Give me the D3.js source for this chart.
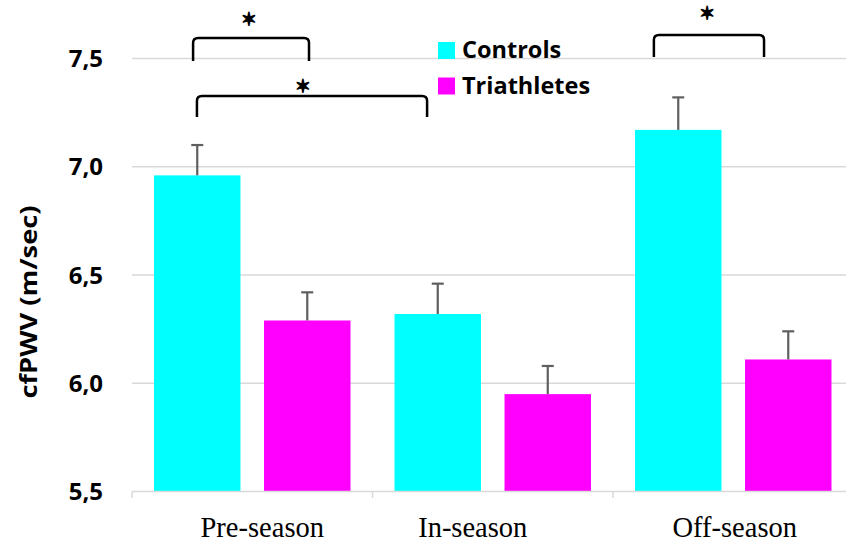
<!DOCTYPE html>
<html>
<head>
<meta charset="utf-8">
<script src="https://cdn.jsdelivr.net/npm/d3@7"></script>
<style>
  html, body { margin: 0; padding: 0; background: #fff; }
  svg { display: block; }
</style>
</head>
<body>
<svg id="chart" width="846" height="542"></svg>
<script>
// ---- data ----
const categories = ["Pre-season", "In-season", "Off-season"];
const seriesNames = ["Controls", "Triathletes"];
const controls = [6.96, 6.32, 7.17];
const controlsErr = [0.14, 0.14, 0.15];
const triathletes = [6.29, 5.95, 6.11];
const triathletesErr = [0.13, 0.13, 0.13];
const yTicks = [5.5, 6.0, 6.5, 7.0, 7.5];
const yTickLabels = ["5,5", "6,0", "6,5", "7,0", "7,5"];
const yTitle = "cfPWV (m/sec)";
// significance brackets: x as category index + fraction of the category band, y in data units
const bracketFrom = [0.254, 0.270, 2.170];
const bracketTo = [0.736, 1.227, 2.628];
const bracketTop = [7.594, 7.326, 7.608];
const bracketBottom = [7.488, 7.229, 7.506];
const starX = [0.486, 0.711, 2.391];
const starY = [7.682, 7.373, 7.708];
const starLabel = "\u2736";

const colors = { "Controls": "#00FFFF", "Triathletes": "#FF00FF" };

// ---- layout ----
const svg = d3.select("#chart");
const plotLeft = 132, plotRight = 853.5, plotTop = 58.4, plotBottom = 491.6;

const x = d3.scaleBand().domain(categories).range([plotLeft, plotRight]).paddingInner(0).paddingOuter(0);
const xFrac = d3.scaleLinear().domain([0, categories.length]).range([plotLeft, plotRight]);
const bw = x.bandwidth();
const xs = d3.scaleBand().domain(seriesNames)
  .range([bw * 0.0915, bw * 0.9085]).paddingInner(0.214).paddingOuter(0);
const y = d3.scaleLinear().domain([5.5, 7.5]).range([plotBottom, plotTop]);

// gridlines
svg.append("g").selectAll("line").data(yTicks.slice(1)).join("line")
  .attr("x1", plotLeft).attr("x2", plotRight)
  .attr("y1", d => y(d)).attr("y2", d => y(d))
  .attr("stroke", "#d9d9d9").attr("stroke-width", 1.5);

// y tick labels
svg.append("g").selectAll("text").data(yTicks).join("text")
  .attr("x", 103).attr("y", d => y(d)).attr("dy", "0.36em")
  .attr("text-anchor", "end")
  .attr("font-family", "'Open Sans', sans-serif").attr("font-weight", 700)
  .attr("font-size", 24).attr("fill", "#000")
  .text((d, i) => yTickLabels[i]);

// y title
svg.append("text")
  .attr("transform", `translate(37, ${(plotTop + plotBottom) / 2 + 27}) rotate(-90)`)
  .attr("text-anchor", "middle")
  .attr("font-family", "'Open Sans', sans-serif").attr("font-weight", 700)
  .attr("font-size", 22.5).attr("fill", "#000")
  .attr("textLength", 193).attr("lengthAdjust", "spacingAndGlyphs")
  .text(yTitle);

// bars
const rows = [];
categories.forEach((c, i) => {
  rows.push({ cat: c, s: "Controls", v: controls[i], e: controlsErr[i] });
  rows.push({ cat: c, s: "Triathletes", v: triathletes[i], e: triathletesErr[i] });
});
svg.append("g").selectAll("rect").data(rows).join("rect")
  .attr("x", d => x(d.cat) + xs(d.s))
  .attr("width", xs.bandwidth())
  .attr("y", d => y(d.v))
  .attr("height", d => y(5.5) - y(d.v))
  .attr("fill", d => colors[d.s]);

// error bars (upper only)
const eg = svg.append("g").attr("stroke", "#5f5f5f").attr("stroke-width", 2.2);
rows.forEach(d => {
  const cx = x(d.cat) + xs(d.s) + xs.bandwidth() / 2;
  eg.append("line").attr("x1", cx).attr("x2", cx).attr("y1", y(d.v)).attr("y2", y(d.v + d.e));
  eg.append("line").attr("x1", cx - 6).attr("x2", cx + 6).attr("y1", y(d.v + d.e)).attr("y2", y(d.v + d.e));
});

// x axis line + ticks
svg.append("line").attr("x1", plotLeft).attr("x2", plotRight)
  .attr("y1", plotBottom).attr("y2", plotBottom)
  .attr("stroke", "#d9d9d9").attr("stroke-width", 1.5);
svg.append("g").selectAll("line").data(d3.range(categories.length + 1)).join("line")
  .attr("x1", d => xFrac(d)).attr("x2", d => xFrac(d))
  .attr("y1", plotBottom).attr("y2", plotBottom + 6.5)
  .attr("stroke", "#d9d9d9").attr("stroke-width", 1.5);

// x labels (Times-like)
const labelShift = [10, -20, 1.5];
svg.append("g").selectAll("text").data(categories).join("text")
  .attr("x", (d, i) => x(d) + bw / 2 + labelShift[i])
  .attr("y", 536.5)
  .attr("text-anchor", "middle")
  .attr("font-family", "'Liberation Serif', 'Times New Roman', serif")
  .attr("font-size", 28.5).attr("fill", "#000")
  .text(d => d);

// brackets
const bg = svg.append("g").attr("fill", "none").attr("stroke", "#000").attr("stroke-width", 2.5);
bracketFrom.forEach((f, i) => {
  const x0 = xFrac(f), x1 = xFrac(bracketTo[i]);
  const yt = y(bracketTop[i]), yb = y(bracketBottom[i]);
  const r = 5;
  const p = d3.path();
  p.moveTo(x0, yb);
  p.lineTo(x0, yt + r);
  p.quadraticCurveTo(x0, yt, x0 + r, yt);
  p.lineTo(x1 - r, yt);
  p.quadraticCurveTo(x1, yt, x1, yt + r);
  p.lineTo(x1, yb);
  bg.append("path").attr("d", p.toString());
});
svg.append("g").selectAll("text").data(starX).join("text")
  .attr("x", d => xFrac(d))
  .attr("y", (d, i) => y(starY[i]))
  .attr("dy", "0.36em")
  .attr("text-anchor", "middle")
  .attr("font-family", "'DejaVu Sans', sans-serif")
  .attr("font-size", 17).attr("fill", "#000")
  .attr("stroke", "#000").attr("stroke-width", 1.6).attr("stroke-linejoin", "round")
  .text(starLabel);

// legend
const lg = svg.append("g");
seriesNames.forEach((s, i) => {
  lg.append("rect").attr("x", 438).attr("y", 42 + i * 35.5).attr("width", 17).attr("height", 17)
    .attr("fill", colors[s]);
  lg.append("text").attr("x", 462).attr("y", 58 + i * 35.5)
    .attr("font-family", "'Open Sans', sans-serif").attr("font-weight", 700)
    .attr("font-size", 23.5).attr("fill", "#000")
    .text(s);
});
</script>
</body>
</html>
